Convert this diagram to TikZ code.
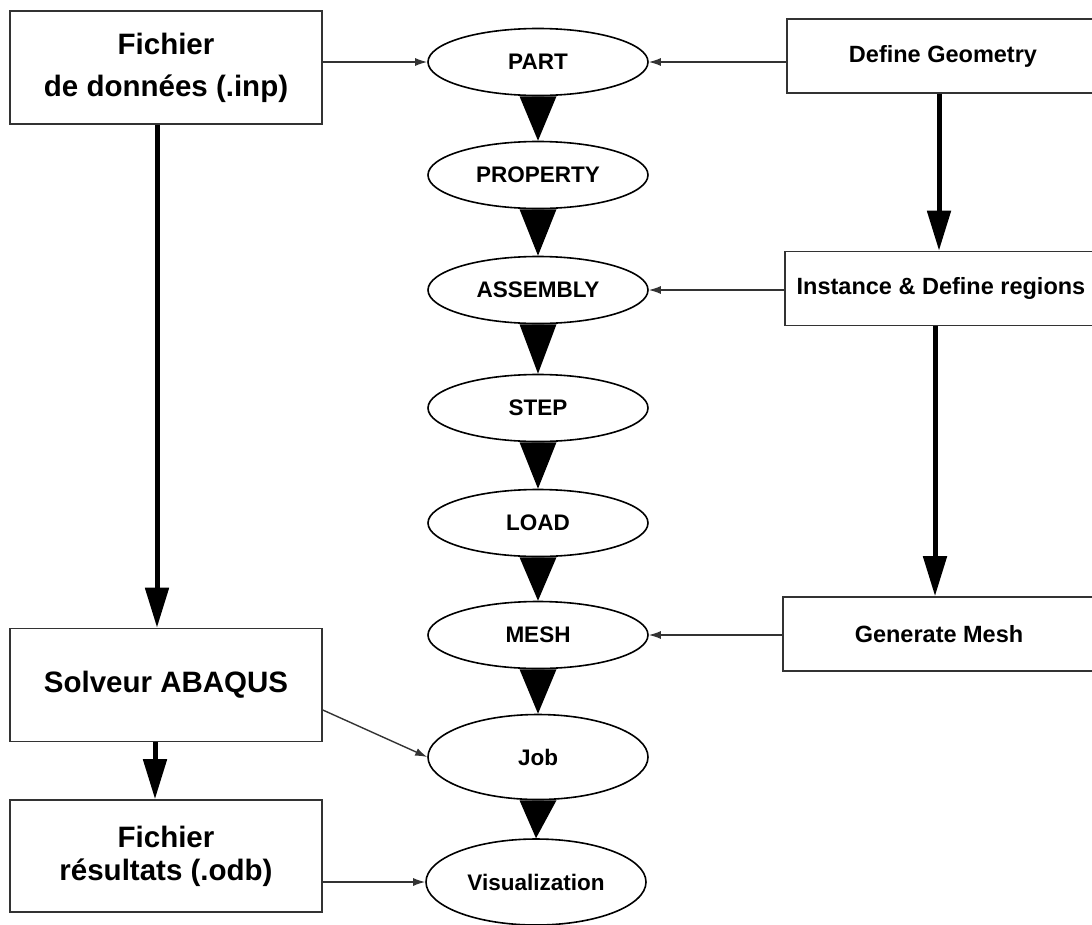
\documentclass[tikz,border=0pt]{standalone}
\usepackage{fontspec}
\setmainfont{Liberation Sans}
\usetikzlibrary{arrows.meta,shapes.geometric}

\begin{document}
\begin{tikzpicture}[x=1pt,y=-1pt,
  lbox/.style={draw=black!80, line width=1.6pt, minimum width=312pt, inner sep=0pt, align=center, font=\fontsize{29.5}{42}\selectfont\bfseries},
  rbox/.style={draw=black!80, line width=1.6pt, minimum width=312pt, minimum height=74pt, inner sep=0pt, font=\fontsize{23.5}{28}\selectfont\bfseries},
  oval/.style={ellipse, draw, line width=1.6pt, fill=white, minimum width=220pt, minimum height=67pt, inner sep=0pt, font=\fontsize{22.5}{27}\selectfont\bfseries},
  link/.style={draw=black!80, line width=1.4pt, -{Latex[length=12pt,width=8pt]}},
  bigarrow/.style={line width=5pt, -{Triangle[length=40pt,width=23pt]}},
  tri/.style={fill=black}
]
\useasboundingbox (0,0) rectangle (1092,924);
\clip (0,0) rectangle (1092,924);

% left boxes
\node[lbox, minimum height=113pt] (inp) at (166,67.5) {Fichier\\de données (.inp)};
\node[lbox, minimum height=113pt] (solv) at (166,685) {Solveur ABAQUS};
\node[lbox, minimum height=112pt, font=\fontsize{29.5}{33}\selectfont\bfseries] (odb) at (166,856) {Fichier\\résultats (.odb)};

% right boxes
\node[rbox] (geo) at (943,56) {Define Geometry};
\node[rbox] (inst) at (941,288.5) {Instance \& Define regions};
\node[rbox] (gmesh) at (939,634) {Generate Mesh};

% ellipses
\node[oval] (part) at (538,62) {PART};
\node[oval] (prop) at (538,175) {PROPERTY};
\node[oval] (asm) at (538,290) {ASSEMBLY};
\node[oval] (stepn) at (538,408) {STEP};
\node[oval] (load) at (538,523) {LOAD};
\node[oval] (mesh) at (538,635) {MESH};
\node[oval, minimum height=85pt] (job) at (538,757) {Job};
\node[oval, minimum height=86pt] (vis) at (536,882) {Visualization};

% triangle connectors
\foreach \a/\b in {part/prop, prop/asm, asm/stepn, stepn/load, load/mesh, mesh/job, job/vis}
  \fill[tri] ([xshift=-18.5pt]\a.south) -- ([xshift=18.5pt]\a.south) -- (\b.north) -- cycle;

% thick arrows
\draw[bigarrow] ([xshift=-9pt]inp.south) -- ([xshift=-9pt]solv.north);
\draw[bigarrow] ([xshift=-11pt]solv.south) -- ([xshift=-11pt]odb.north);
\draw[bigarrow] ([xshift=-4pt]geo.south) -- ([xshift=-2pt]inst.north);
\draw[bigarrow] ([xshift=-6pt]inst.south) -- ([xshift=-4pt]gmesh.north);

% thin arrows
\draw[link] (inp.east |- part.west) -- (part.west);
\draw[link] (geo.west |- part.east) -- (part.east);
\draw[link] (inst.west |- asm.east) -- (asm.east);
\draw[link] (gmesh.west |- mesh.east) -- (mesh.east);
\draw[link] ([yshift=-25pt]solv.east) -- (job.west);
\draw[link] (odb.east |- vis.west) -- (vis.west);
\end{tikzpicture}
\end{document}
